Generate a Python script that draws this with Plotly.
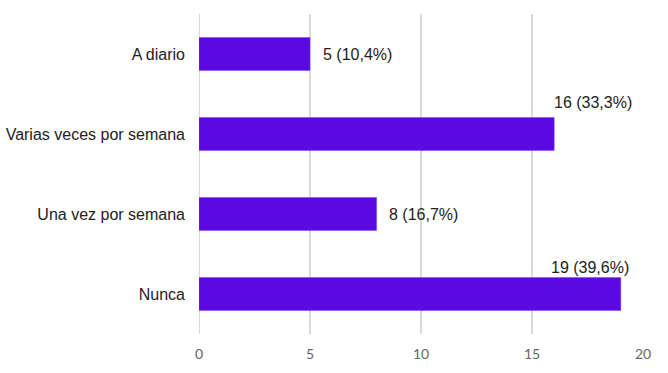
import plotly.graph_objects as go

categories = ["A diario", "Varias veces por semana", "Una vez por semana", "Nunca"]
values = [5, 16, 8, 19]
labels = ["5 (10,4%)", "16 (33,3%)", "8 (16,7%)", "19 (39,6%)"]
x_ticks = [0, 5, 10, 15, 20]

# label placement style: (xanchor, xshift, yshift)
label_style = [("left", 11, 0), ("left", -2, 32), ("left", 10, 0), ("right", 10, 27)]

fig = go.Figure()
fig.add_trace(go.Bar(
    y=categories, x=values, orientation="h",
    marker=dict(color="#5a0ae0", line=dict(color="#7a3cf0", width=0.5)),
    width=0.41, hoverinfo="skip",
))

for cat, v, lab, (xa, xs, ys) in zip(categories, values, labels, label_style):
    fig.add_annotation(x=v, y=cat, text=lab, showarrow=False, xanchor=xa, yanchor="middle",
                       xshift=xs, yshift=ys,
                       font=dict(family="Liberation Sans, Arial", size=16, color="#222222"))

fig.update_layout(
    width=668, height=373,
    margin=dict(l=199, r=25, t=14, b=39),
    plot_bgcolor="white", paper_bgcolor="white",
    showlegend=False,
    xaxis=dict(range=[0, 20], tickvals=x_ticks, showgrid=True, gridcolor="#dadada", gridwidth=2,
               zeroline=False, showline=False, ticks="", ticklen=0, ticklabelstandoff=10,
               automargin=False,
               tickfont=dict(family="Lato, Open Sans", size=14, color="#666666"), fixedrange=True),
    yaxis=dict(categoryorder="array", categoryarray=categories, autorange=False, range=[3.5, -0.5],
               showgrid=False, zeroline=False, showline=False, ticks="", ticklabelstandoff=13,
               automargin=False,
               tickfont=dict(family="Liberation Sans, Arial", size=16, color="#222222")),
)
fig.add_shape(type="line", xref="x", yref="paper", x0=0, x1=0, y0=0, y1=1,
              line=dict(color="#dadada", width=2), layer="below")

fig.write_html("out.html")
